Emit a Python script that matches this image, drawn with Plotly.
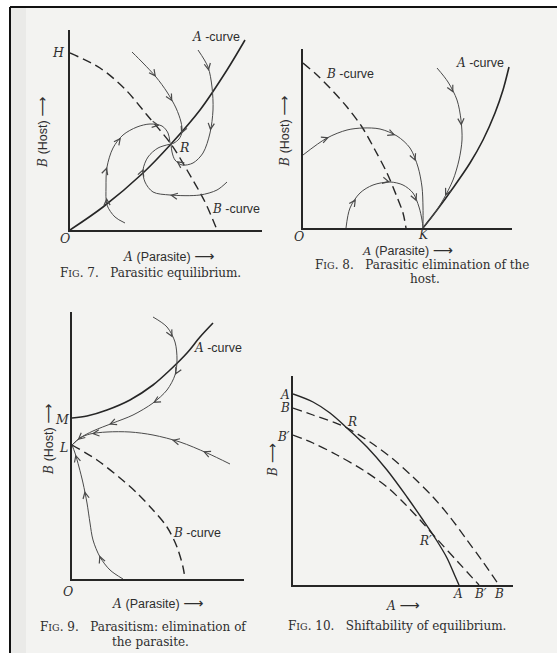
import math
import plotly.graph_objects as go

W, H = 557, 653

# ------------------------------------------------------------------ data
# Fig. 7  Parasitic equilibrium
f7_acurve_x = [0, 33, 73, 101, 130, 157, 175]
f7_acurve_y = [0, 23, 57, 86, 120, 160, 190]
f7_bcurve_x = [0, 30, 55, 77, 101, 117, 135, 147]
f7_bcurve_y = [177, 162, 141, 115, 86, 60, 28, 0]
f7_path1_x = [62, 73, 86, 97, 106, 111, 112, 109, 104, 101]
f7_path1_y = [178, 167, 153, 138, 122, 108, 98, 91, 87, 86]
f7_path2_x = [128, 138, 142, 143, 140, 133, 123, 112, 105, 102, 101]
f7_path2_y = [180, 163, 143, 120, 97, 77, 67, 65, 70, 78, 86]
f7_path3_x = [157, 147, 130, 100, 83, 75, 73, 78, 88, 101]
f7_path3_y = [48, 40, 35, 35, 38, 48, 60, 73, 82, 86]
f7_path4_x = [55, 45, 37, 36, 37, 43, 53, 67, 80, 92, 98, 100]
f7_path4_y = [7, 13, 25, 43, 63, 82, 95, 103, 106, 104, 97, 87]

# Fig. 8  Parasitic elimination of the host
f8_acurve_x = [120, 134, 150, 167, 180, 192, 200, 206]
f8_acurve_y = [0, 18, 40, 65, 88, 115, 138, 161]
f8_bcurve_x = [0, 14, 27, 44, 59, 72, 84, 94, 100, 103]
f8_bcurve_y = [165, 153, 140, 121, 101, 78, 55, 31, 15, 0]
f8_path1_x = [134, 145, 154, 158, 159, 156, 150, 140, 129, 120]
f8_path1_y = [160, 146, 128, 108, 88, 68, 48, 28, 11, 0]
f8_path2_x = [0, 24, 44, 60, 77, 94, 107, 115, 119, 120, 120]
f8_path2_y = [73, 90, 98, 100, 99, 92, 80, 61, 41, 21, 0]
f8_path3_x = [43, 47, 57, 70, 87, 100, 110, 116, 119, 120]
f8_path3_y = [0, 20, 35, 43, 46, 43, 35, 21, 8, 0]

# Fig. 9  Parasitism: elimination of the parasite
f9_acurve_x = [0, 15, 35, 58, 81, 98, 115, 128, 141]
f9_acurve_y = [161, 163, 169, 179, 194, 209, 226, 242, 256]
f9_bcurve_x = [0, 25, 48, 65, 81, 95, 105, 111, 113]
f9_bcurve_y = [134, 119, 101, 86, 69, 52, 32, 12, 0]
f9_path1_x = [81, 95, 103, 105, 103, 95, 81, 61, 41, 21, 8, 0]
f9_path1_y = [262, 252, 237, 219, 204, 189, 176, 164, 156, 148, 141, 134]
f9_path2_x = [158, 135, 108, 81, 58, 35, 18, 8, 0]
f9_path2_y = [115, 126, 137, 144, 147, 147, 145, 141, 134]
f9_path3_x = [51, 38, 28, 21, 18, 15, 11, 7, 3, 0]
f9_path3_y = [0, 9, 22, 39, 56, 76, 96, 112, 126, 134]

# Fig. 10  Shiftability of equilibrium
f10_a_x = [0, 20, 37, 54, 74, 94, 114, 130, 144, 154, 162, 166]
f10_a_y = [191, 183, 172, 157, 138, 115, 88, 65, 44, 27, 9, 0]
f10_b_x = [0, 20, 40, 54, 77, 100, 120, 140, 157, 174, 190, 206]
f10_b_y = [177, 170, 163, 157, 143, 126, 108, 88, 68, 45, 23, 0]
f10_bp_x = [0, 20, 44, 70, 94, 112, 128, 144, 165, 186]
f10_bp_y = [150, 142, 130, 115, 98, 81, 64, 46, 23, 0]

# arrow positions along each path (fractional point index)
f7_arrows = {"p1": [2.0, 3.6, 6.3], "p2": [1.2, 3.9, 7.8], "p3": [3.0, 6.1], "p4": [2.4, 4.0, 5.8, 8.8]}
f8_arrows = {"p1": [1.6, 3.3, 6.8], "p2": [1.1, 4.9, 6.7], "p3": [1.6, 4.0, 6.6]}
f9_arrows = {"p1": [1.7, 4.0, 6.0, 8.2, 10.3], "p2": [1.15, 2.3, 5.9], "p3": [2.1, 5.6, 7.9]}

# ------------------------------------------------------------------ styling
BG = "#f3f3f1"
INK = "#262626"
PATH = "#4a4a4a"
TXT = "#2e2e2e"
SERIF = "DejaVu Serif"
SANS = "Liberation Sans"

# pixel geometry of each panel: left, right, top, bottom(origin)
panels = [
    dict(x0=70, x1=262, yt=30, y0=230),
    dict(x0=303, x1=512, yt=49, y0=228),
    dict(x0=72, x1=244, yt=312, y0=579),
    dict(x0=293, x1=513, yt=376, y0=585),
]

fig = go.Figure()
layout = dict(
    width=W, height=H, margin=dict(l=0, r=0, t=0, b=0),
    paper_bgcolor=BG, plot_bgcolor="rgba(0,0,0,0)", showlegend=False,
)
for k, p in enumerate(panels, start=1):
    sfx = "" if k == 1 else str(k)
    layout["xaxis" + sfx] = dict(
        domain=[p["x0"] / W, p["x1"] / W], range=[0, p["x1"] - p["x0"]],
        anchor="y" + sfx, showline=True, linecolor=INK, linewidth=1.7,
        showgrid=False, zeroline=False, showticklabels=False, ticks="", fixedrange=True)
    layout["yaxis" + sfx] = dict(
        domain=[1 - p["y0"] / H, 1 - p["yt"] / H], range=[0, p["y0"] - p["yt"]],
        anchor="x" + sfx, showline=True, linecolor=INK, linewidth=1.7,
        showgrid=False, zeroline=False, showticklabels=False, ticks="", fixedrange=True)

annotations = []


def axref(k):
    sfx = "" if k == 1 else str(k)
    return "x" + sfx, "y" + sfx


def curve(k, xs, ys, color=PATH, width=1.0, dash=None):
    xa, ya = axref(k)
    fig.add_trace(go.Scatter(
        x=xs, y=ys, mode="lines", xaxis=xa, yaxis=ya, hoverinfo="skip",
        line=dict(color=color, width=width, shape="spline", smoothing=0.9, dash=dash)))


def arrows(k, xs, ys, ts):
    xa, ya = axref(k)
    for t in ts:
        i = min(int(t), len(xs) - 2)
        f = t - i
        x = xs[i] + f * (xs[i + 1] - xs[i])
        y = ys[i] + f * (ys[i + 1] - ys[i])
        dx, dy = xs[i + 1] - xs[i], ys[i + 1] - ys[i]
        n = math.hypot(dx, dy)
        annotations.append(dict(
            x=x, y=y, ax=x - 5 * dx / n, ay=y - 5 * dy / n,
            xref=xa, yref=ya, axref=xa, ayref=ya, text="", showarrow=True,
            arrowhead=5, arrowsize=1.35, arrowwidth=0.9, arrowcolor=PATH, standoff=0))


def label(text, px, py, size=12, family=SERIF, angle=0, xanchor="center"):
    annotations.append(dict(
        text=text, x=px / W, y=1 - py / H, xref="paper", yref="paper",
        showarrow=False, textangle=angle, xanchor=xanchor, yanchor="middle",
        font=dict(family=family, size=size, color=TXT)))


def sans(s, size=None):
    st = "font-family:Liberation Sans" + (";font-size:%spx" % size if size else "")
    return '<span style="' + st + '">' + s + "</span>"


ARROW = '<span style="font-family:DejaVu Sans;font-size:14px">⟶</span>'
DASH = "9px,5px"

# Fig 7
curve(1, f7_acurve_x, f7_acurve_y, INK, 1.6)
curve(1, f7_bcurve_x, f7_bcurve_y, INK, 1.4, DASH)
for xs, ys, key in [(f7_path1_x, f7_path1_y, "p1"), (f7_path2_x, f7_path2_y, "p2"),
                    (f7_path3_x, f7_path3_y, "p3"), (f7_path4_x, f7_path4_y, "p4")]:
    curve(1, xs, ys)
    arrows(1, xs, ys, f7_arrows[key])

# Fig 8
curve(2, f8_acurve_x, f8_acurve_y, INK, 1.6)
curve(2, f8_bcurve_x, f8_bcurve_y, INK, 1.4, DASH)
for xs, ys, key in [(f8_path1_x, f8_path1_y, "p1"), (f8_path2_x, f8_path2_y, "p2"),
                    (f8_path3_x, f8_path3_y, "p3")]:
    curve(2, xs, ys)
    arrows(2, xs, ys, f8_arrows[key])

# Fig 9
curve(3, f9_acurve_x, f9_acurve_y, INK, 1.6)
curve(3, f9_bcurve_x, f9_bcurve_y, INK, 1.4, DASH)
for xs, ys, key in [(f9_path1_x, f9_path1_y, "p1"), (f9_path2_x, f9_path2_y, "p2"),
                    (f9_path3_x, f9_path3_y, "p3")]:
    curve(3, xs, ys)
    arrows(3, xs, ys, f9_arrows[key])

# Fig 10
curve(4, f10_a_x, f10_a_y, INK, 1.4)
curve(4, f10_b_x, f10_b_y, INK, 1.3, DASH)
curve(4, f10_bp_x, f10_bp_y, INK, 1.3, DASH)

# ---- text
host = "<i>B</i> " + sans("(Host) ", 12.5) + ARROW
para = "<i>A</i> " + sans("(Parasite) ", 12.5) + ARROW
acur = "<i>A</i>" + sans(" -curve", 12.5)
bcur = "<i>B</i>" + sans(" -curve", 12.5)


def cap(n, rest):
    return 'F<span style="font-size:9.5px">IG</span>. ' + n + '.&nbsp;&nbsp;&nbsp;' + rest


# Fig 7
label("<i>H</i>", 58, 53, 12.5)
label("<i>O</i>", 65, 238, 12.5)
label("<i>R</i>", 184, 147, 12.5)
label(acur, 216, 37, 12)
label(bcur, 236, 209, 12)
label(host, 42, 133, 12, angle=-90)
label(para, 168, 256, 12)
label(cap("7", "Parasitic equilibrium."), 150, 273, 12)

# Fig 8
label("<i>O</i>", 299, 236, 12.5)
label("<i>K</i>", 423, 235, 12)
label(bcur, 350, 74, 12)
label(acur, 480, 63, 12)
label(host, 284, 132, 12, angle=-90)
label(para, 407, 250, 11.5)
label(cap("8", "Parasitic elimination of the"), 422, 265, 12)
label("host.", 425, 279, 12)

# Fig 9
label("<i>M</i>", 62, 419, 12.5)
label("<i>L</i>", 63, 447, 12.5)
label("<i>O</i>", 68, 591, 12.5)
label(acur, 218, 348, 12)
label(bcur, 197, 533, 12)
label(host, 48, 440, 12, angle=-90)
label(para, 157, 603, 12)
label(cap("9", "Parasitism: elimination of"), 143, 627, 12)
label("the parasite.", 150, 642, 12)

# Fig 10
label("<i>A</i>", 285, 395, 12)
label("<i>B</i>", 285, 408, 12)
label("<i>B′</i>", 283, 437, 12)
label("<i>R</i>", 352, 422, 12)
label("<i>R′</i>", 425, 541, 12)
label("<i>A</i>", 458, 594, 12)
label("<i>B′</i>", 480, 594, 12)
label("<i>B</i>", 499, 594, 12)
label("<i>B</i> " + ARROW, 272, 460, 12, angle=-90)
label("<i>A</i> " + ARROW, 403, 605, 12)
label(cap("10", "Shiftability of equilibrium."), 397, 626, 12)

layout["annotations"] = annotations
layout["shapes"] = [
    dict(type="rect", xref="paper", yref="paper", x0=0, x1=10 / W, y0=0, y1=1,
         fillcolor="white", line=dict(width=0), layer="below"),
    dict(type="rect", xref="paper", yref="paper", x0=0, x1=1, y0=1 - 7 / H, y1=1,
         fillcolor="white", line=dict(width=0), layer="below"),
    dict(type="rect", xref="paper", yref="paper", x0=10 / W, x1=26 / W, y0=0, y1=1 - 7 / H,
         fillcolor="rgba(0,0,0,0.035)", line=dict(width=0), layer="below"),
    dict(type="line", xref="paper", yref="paper", x0=10 / W, x1=1, y0=1 - 7 / H, y1=1 - 7 / H,
         line=dict(color="#111", width=2)),
    dict(type="line", xref="paper", yref="paper", x0=10 / W, x1=10 / W, y0=0, y1=1 - 7 / H,
         line=dict(color="#111", width=2)),
]
fig.update_layout(**layout)
fig.write_html(
    "out.html",
    config={"displayModeBar": False},
    post_script="document.body.style.margin='0';document.body.style.overflow='hidden';",
)
